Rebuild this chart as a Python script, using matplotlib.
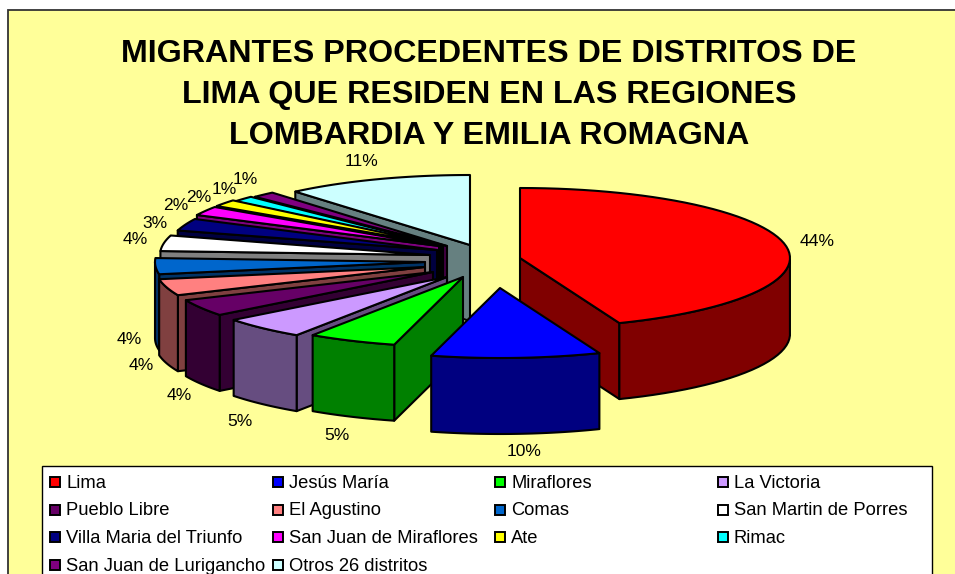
import numpy as np
import matplotlib
matplotlib.use("Agg")
from matplotlib import pyplot as plt
from matplotlib.patches import Polygon, Rectangle
from matplotlib.colors import to_rgb

# data (labels are the rounded values)
distritos = ["Lima", "Jesús María", "Miraflores", "La Victoria",
	"Pueblo Libre", "El Agustino", "Comas", "San Martin de Porres",
	"Villa Maria del Triunfo", "San Juan de Miraflores", "Ate", "Rimac",
	"San Juan de Lurigancho", "Otros 26 distritos"]
porcentajes = [44.0, 10.1, 5.3, 5.1, 3.9, 3.8, 3.7, 3.6, 2.8, 2.1, 1.6, 1.4, 1.4, 11.2]
colores = ["#FF0000", "#0000FF", "#00FF00", "#CC99FF", "#660066", "#FF8080", "#0066CC",
	"#FFFFFF", "#000080", "#FF00FF", "#FFFF00", "#00FFFF", "#800080", "#CCFFFF"]
titulo = "MIGRANTES PROCEDENTES DE DISTRITOS DE\nLIMA QUE RESIDEN EN LAS REGIONES\nLOMBARDIA Y EMILIA ROMAGNA"

# pie layout in pixels of the picture
cx, cy = 450, 255
rx, ry = 270, 70
depth = 76
# every slice was pulled out by hand in the original
shift_x = [70, 50, 13, -3, -17, -25, -25, -20, -13, -11, -9, -7, -3, 20]
shift_y = [3, 33, 22, 22, 17, 12, 7, 0, -5, -9, -10, -9, -9, -10]
label_x = [817, 524, 337, 240, 179, 141, 129, 135, 155, 176, 199, 224, 245, 361]
label_y = [242, 452, 436, 421, 396, 365, 340, 239, 224, 206, 197, 190, 179, 162]
draw_order = [13, 12, 11, 10, 9, 8, 7, 6, 5, 4, 3, 2, 0, 1]

plt.rcParams["font.family"] = ["Liberation Sans", "DejaVu Sans"]

fig = plt.figure(figsize=(9.55, 5.74), dpi=100, facecolor="white")
ax = fig.add_axes([0, 0, 1, 1])
ax.set_xlim(0, 955)
ax.set_ylim(574, 0)
ax.axis("off")

##	Chart area
ax.add_patch(Rectangle((8, 10), 960, 580, fc="#FFFF99", ec="#333333", lw=1.3))
ax.text(489, 95, titulo, ha="center", va="center", fontsize=23.2, fontweight="bold",
	color="black", linespacing=1.46)

##	Outline of one slice: apex, then the arc going clockwise
def slice_outline(i, start, end):
	ax0 = cx + shift_x[i]
	ay0 = cy + shift_y[i]
	t = np.radians(np.linspace(start, end, 60))
	xs = ax0 + rx*np.sin(t)
	ys = ay0 - ry*np.cos(t)
	return ax0, ay0, xs, ys

def dark(col):
	return tuple(c*0.5 for c in to_rgb(col))

edges = np.cumsum([0] + porcentajes)*3.6
lw = 1.5
for i in draw_order:
	ax0, ay0, xs, ys = slice_outline(i, edges[i], edges[i+1])
	side = dark(colores[i])
	# a wall shows only where the outline runs to the left
	if xs[0] < ax0:
		wall = [(ax0, ay0), (xs[0], ys[0]), (xs[0], ys[0]+depth), (ax0, ay0+depth)]
		ax.add_patch(Polygon(wall, closed=True, fc=side, ec="black", lw=lw, joinstyle="round"))
	if xs[-1] > ax0:
		wall = [(xs[-1], ys[-1]), (ax0, ay0), (ax0, ay0+depth), (xs[-1], ys[-1]+depth)]
		ax.add_patch(Polygon(wall, closed=True, fc=side, ec="black", lw=lw, joinstyle="round"))
	front = np.diff(xs) < 0
	if front.any():
		first = np.argmax(front)
		last = len(front) - np.argmax(front[::-1])
		ax_, ay_ = xs[first:last+1], ys[first:last+1]
		pts = list(zip(ax_, ay_)) + list(zip(ax_[::-1], ay_[::-1]+depth))
		ax.add_patch(Polygon(pts, closed=True, fc=side, ec="black", lw=lw, joinstyle="round"))
	top = [(ax0, ay0)] + list(zip(xs, ys))
	ax.add_patch(Polygon(top, closed=True, fc=colores[i], ec="black", lw=lw, joinstyle="round"))

for i, v in enumerate(porcentajes):
	ax.text(label_x[i], label_y[i], "%d%%" % round(v), ha="center", va="center",
		fontsize=12.6, color="black")

##	Legend, four equal columns, runs off the bottom of the picture
ax.add_patch(Rectangle((42, 466), 890, 130, fc="white", ec="black", lw=1.0))
for i, name in enumerate(distritos):
	col = i % 4
	row = i // 4
	x = 50 + col*222.5
	y = 482 + row*27.7
	ax.add_patch(Rectangle((x, y-5), 10, 10, fc=colores[i], ec="black", lw=1.4))
	ax.text(x+16, y+1, name, ha="left", va="center", fontsize=13.2, color="black")

fig.savefig("out.png", dpi=100)
